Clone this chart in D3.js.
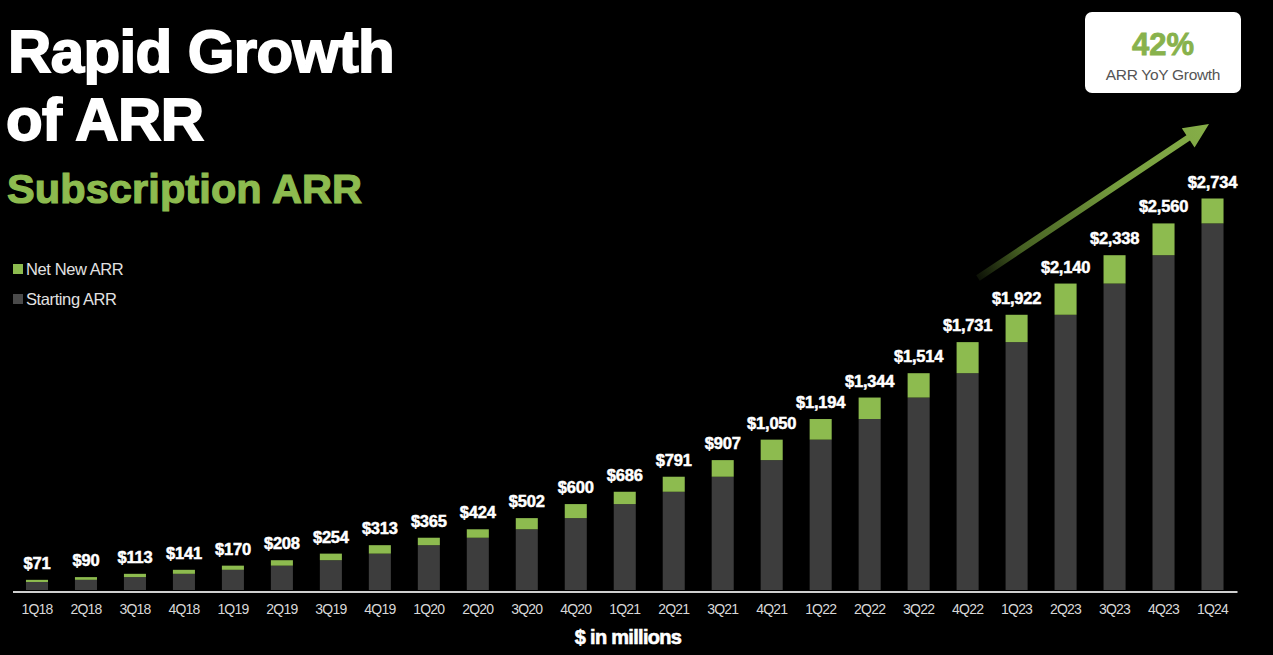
<!DOCTYPE html>
<html>
<head>
<meta charset="utf-8">
<script src="https://cdn.jsdelivr.net/npm/d3@7/dist/d3.min.js"></script>
<style>
  html, body { margin: 0; padding: 0; background: #000; }
  svg { display: block; }
  text { font-family: "Helvetica Neue", Helvetica, Arial, "Liberation Sans", sans-serif; }
</style>
</head>
<body>
<svg id="chart" width="1273" height="655"></svg>
<script>
// ---- data ----
const categories = ["1Q18","2Q18","3Q18","4Q18","1Q19","2Q19","3Q19","4Q19","1Q20","2Q20","3Q20","4Q20",
  "1Q21","2Q21","3Q21","4Q21","1Q22","2Q22","3Q22","4Q22","1Q23","2Q23","3Q23","4Q23","1Q24"];
const startingARR = [56,71,90,113,141,170,208,254,313,365,424,502,600,686,791,907,1050,1194,1344,1514,1731,1922,2140,2338,2560];
const netNewARR   = [15,19,23,28,29,38,46,59,52,59,78,98,86,105,116,143,144,150,170,217,191,218,198,222,174];
const totalLabels = ["$71","$90","$113","$141","$170","$208","$254","$313","$365","$424","$502","$600",
  "$686","$791","$907","$1,050","$1,194","$1,344","$1,514","$1,731","$1,922","$2,140","$2,338","$2,560","$2,734"];
const seriesNames = ["Net New ARR", "Starting ARR"];
const growthValue = "42%";
const growthLabel = "ARR YoY Growth";

// ---- styles ----
const GREEN = "#8dbb4f";
const DARK = "#3d3d3d";

const svg = d3.select("#chart");
svg.append("rect").attr("width", 1273).attr("height", 655).attr("fill", "#000");

const rows = categories.map((c, i) => ({ cat: c, start: startingARR[i], net: netNewARR[i], label: totalLabels[i] }));
const stack = d3.stack().keys(["start", "net"])(rows);

const x = d3.scaleBand().domain(categories).range([12.5, 1237]).paddingInner(0.55).paddingOuter(0.275);
const y = d3.scaleLinear().domain([0, 2734]).range([590, 198.5]);
const color = d3.scaleOrdinal().domain(["start", "net"]).range([DARK, GREEN]);

// bars
svg.append("g").selectAll("g").data(stack).join("g")
  .attr("fill", d => color(d.key))
  .selectAll("rect").data(d => d).join("rect")
  .attr("x", d => x(d.data.cat))
  .attr("width", x.bandwidth())
  .attr("y", d => y(d[1]))
  .attr("height", d => y(d[0]) - y(d[1]));

// value labels
svg.append("g").selectAll("text").data(rows).join("text")
  .attr("x", d => x(d.cat) + x.bandwidth() / 2)
  .attr("y", d => y(d.start + d.net) - 11)
  .attr("text-anchor", "middle")
  .attr("fill", "#fff")
  .attr("stroke", "#fff").attr("stroke-width", 0.5)
  .attr("font-weight", "bold")
  .attr("font-size", 16.5)
  .attr("letter-spacing", -0.2)
  .text(d => d.label);

// x axis
const axis = svg.append("g").attr("transform", "translate(0,591.5)")
  .call(d3.axisBottom(x).tickSize(0).tickPadding(12.5).tickSizeOuter(0));
axis.select(".domain").attr("stroke", "#cfcfcf").attr("stroke-width", 2.2);
axis.selectAll("text").attr("fill", "#d8d8d8").attr("font-size", 14).attr("letter-spacing", -0.8)
  .style("font-family", "\"Helvetica Neue\", Helvetica, Arial, \"Liberation Sans\", sans-serif");

// axis title
svg.append("text").attr("x", 628).attr("y", 644).attr("text-anchor", "middle")
  .attr("fill", "#fff").attr("stroke", "#fff").attr("stroke-width", 0.6)
  .attr("font-weight", "bold").attr("font-size", 20).attr("letter-spacing", -0.7)
  .text("$ in millions");

// titles
svg.append("text").attr("x", 8).attr("y", 72).attr("fill", "#fff").attr("stroke", "#fff").attr("stroke-width", 1.8)
  .attr("font-weight", "bold").attr("font-size", 60).attr("letter-spacing", -0.6).text("Rapid Growth");
svg.append("text").attr("x", 6).attr("y", 140).attr("fill", "#fff").attr("stroke", "#fff").attr("stroke-width", 1.8)
  .attr("font-weight", "bold").attr("font-size", 60).attr("letter-spacing", -0.6).text("of ARR");
svg.append("text").attr("x", 7).attr("y", 203).attr("fill", GREEN).attr("stroke", GREEN).attr("stroke-width", 1.2)
  .attr("font-weight", "bold").attr("font-size", 41.5).attr("letter-spacing", 0.1).text("Subscription ARR");

// legend
const legend = svg.append("g");
const legendKeys = ["net", "start"];
legendKeys.forEach((k, i) => {
  const g = legend.append("g").attr("transform", `translate(13,${264 + i * 30})`);
  g.append("rect").attr("width", 10).attr("height", 10).attr("fill", k === "start" ? "#4a4a4a" : color(k));
  g.append("text").attr("x", 13).attr("y", 10.5).attr("fill", "#e2e2e2").attr("font-size", 16.5)
    .attr("letter-spacing", -0.4).text(seriesNames[i]);
});

// growth box
svg.append("rect").attr("x", 1085).attr("y", 12).attr("width", 156).attr("height", 81)
  .attr("rx", 7).attr("fill", "#fff");
svg.append("text").attr("x", 1163).attr("y", 54.5).attr("text-anchor", "middle").attr("fill", "#88b24c")
  .attr("stroke", "#88b24c").attr("stroke-width", 0.8)
  .attr("font-weight", "bold").attr("font-size", 31).text(growthValue);
svg.append("text").attr("x", 1163).attr("y", 79.5).attr("text-anchor", "middle").attr("fill", "#555")
  .attr("font-size", 15.5).attr("letter-spacing", -0.3).text(growthLabel);

// arrow
const defs = svg.append("defs");
const grad = defs.append("linearGradient").attr("id", "arrowGrad")
  .attr("gradientUnits", "userSpaceOnUse")
  .attr("x1", 975).attr("y1", 280).attr("x2", 1209).attr("y2", 124);
grad.append("stop").attr("offset", 0).attr("stop-color", "#5a7a2c").attr("stop-opacity", 0.1);
grad.append("stop").attr("offset", 0.2).attr("stop-color", "#5f822f").attr("stop-opacity", 0.75);
grad.append("stop").attr("offset", 0.6).attr("stop-color", "#759c3e").attr("stop-opacity", 1);
grad.append("stop").attr("offset", 1).attr("stop-color", "#86ae48").attr("stop-opacity", 1);

const tail = [978, 278], tip = [1209, 124];
const ang = Math.atan2(tip[1] - tail[1], tip[0] - tail[0]);
const headLen = 25, headHalf = 11.5, shaftHalf = 3.2;
const ux = Math.cos(ang), uy = Math.sin(ang), px = -uy, py = ux;
const bx = tip[0] - ux * headLen, by = tip[1] - uy * headLen;
const pts = [
  [tail[0] + px * shaftHalf, tail[1] + py * shaftHalf],
  [bx + px * shaftHalf, by + py * shaftHalf],
  [bx + px * headHalf, by + py * headHalf],
  tip,
  [bx - px * headHalf, by - py * headHalf],
  [bx - px * shaftHalf, by - py * shaftHalf],
  [tail[0] - px * shaftHalf, tail[1] - py * shaftHalf]
];
svg.append("path").attr("d", d3.line()(pts) + "Z").attr("fill", "url(#arrowGrad)");
</script>
</body>
</html>
